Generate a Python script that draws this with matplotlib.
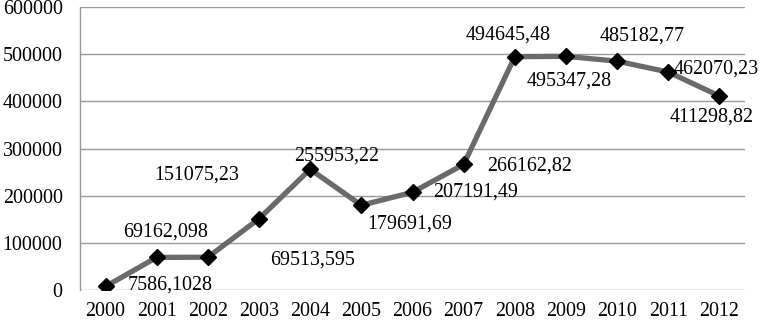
import matplotlib
matplotlib.use("Agg")
import matplotlib.pyplot as plt

years = ["2000", "2001", "2002", "2003", "2004", "2005", "2006",
         "2007", "2008", "2009", "2010", "2011", "2012"]
values = [7586.1028, 69162.098, 69513.595, 151075.23, 255953.22, 179691.69,
          207191.49, 266162.82, 494645.48, 495347.28, 485182.77, 462070.23,
          411298.82]
labels = ["7586,1028", "69162,098", "69513,595", "151075,23", "255953,22",
          "179691,69", "207191,49", "266162,82", "494645,48", "495347,28",
          "485182,77", "462070,23", "411298,82"]
# label offsets in pixels (dx, dy) relative to each point
offsets = [(65, 1), (9, 25), (105, -3), (-62, 44), (26, 13), (48, -19),
           (63, 0), (66, -2), (-7, 22), (3, -25), (25, 25), (48, 3), (-8, -21)]

plt.rcParams['font.family'] = ['Liberation Serif', 'DejaVu Serif']

fig = plt.figure(figsize=(7.61, 3.22), dpi=100)
ax = fig.add_axes([80/761, 32/322, 665/761, 283/322])

x = list(range(len(years)))
ax.plot(x, values, color='#6a6a6a', linewidth=3.8, zorder=3,
        marker='D', markersize=8, markerfacecolor='black',
        markeredgecolor='black')

for xi, v, lab, (dx, dy) in zip(x, values, labels, offsets):
    ax.annotate(lab, (xi, v), xytext=(dx, dy), textcoords='offset pixels',
                ha='center', va='center', fontsize=14.4, color='black',
                zorder=4)

ax.set_xlim(-0.5, 12.5)
ax.set_ylim(0, 600000)
ax.set_yticks(range(0, 600001, 100000))
ax.set_xticks(x)
ax.set_xticklabels(years)
ax.tick_params(axis='both', length=0, labelsize=14.4, colors='black')
ax.tick_params(axis='y', pad=12.5)
ax.tick_params(axis='x', pad=9)
ax.yaxis.grid(True, color='#999999', linewidth=1)
ax.set_axisbelow(True)
for s in ['top', 'right', 'bottom']:
    ax.spines[s].set_visible(False)
ax.spines['left'].set_color('#999999')
ax.spines['left'].set_linewidth(1)

fig.savefig('out.png', dpi=100)
